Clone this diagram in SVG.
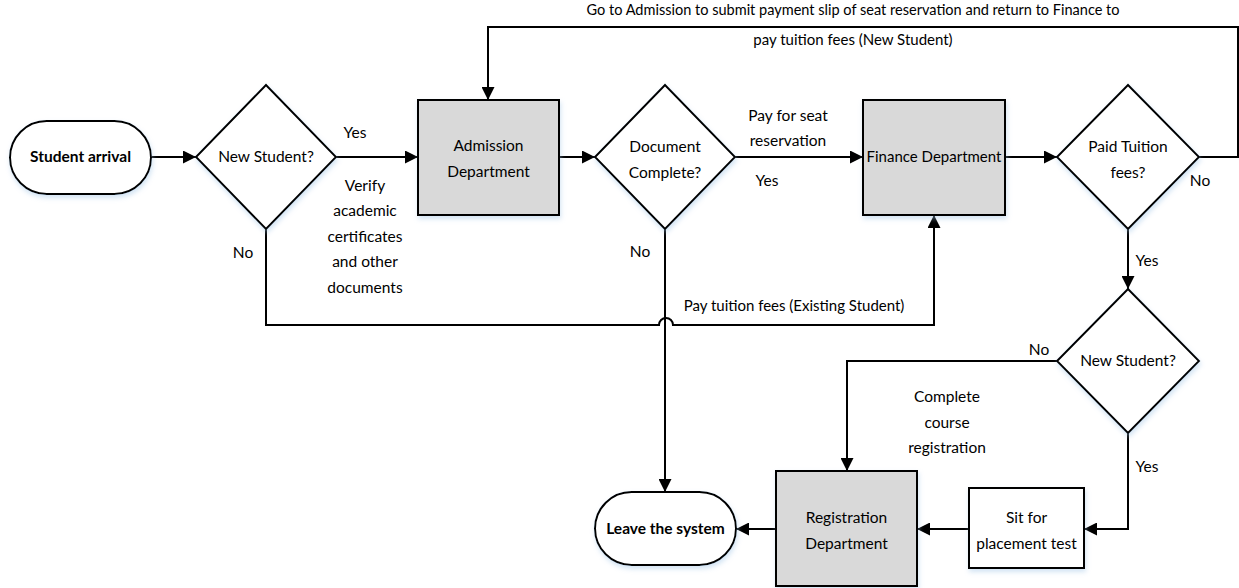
<svg xmlns="http://www.w3.org/2000/svg" width="1239" height="588" viewBox="0 0 1239 588">
  <style>
    text { font-family: Lato, "Open Sans", "Liberation Sans", sans-serif; font-size: 15.5px; fill: #000; text-anchor: middle; }
    .bold { font-weight: bold; }
    .small { font-size: 15px; }
    .shape { stroke: #000; stroke-width: 2; }
    .proc { fill: #d9d9d9; }
    .plain { fill: #fff; }
    .conn { fill: none; stroke: #000; stroke-width: 2; }
  </style>
  <defs>
    <marker id="arrow" viewBox="0 0 13 13" refX="13" refY="6.5" markerWidth="13" markerHeight="13" markerUnits="userSpaceOnUse" orient="auto">
      <path d="M0,0 L13,6.5 L0,13 z" fill="#000"/>
    </marker>
    <filter id="glow" x="-10%" y="-10%" width="125%" height="130%">
      <feDropShadow dx="1" dy="3" stdDeviation="2.5" flood-color="#9dc3e6" flood-opacity="0.45"/>
    </filter>
  </defs>
  <rect width="1239" height="588" fill="#fff"/>

  <!-- connectors -->
  <g id="connectors">
    <path class="conn" d="M151,157 H196" marker-end="url(#arrow)"/>
    <path class="conn" d="M336,157 H418" marker-end="url(#arrow)"/>
    <path class="conn" d="M559,157 H595" marker-end="url(#arrow)"/>
    <path class="conn" d="M735,157 H863" marker-end="url(#arrow)"/>
    <path class="conn" d="M1005,157 H1057" marker-end="url(#arrow)"/>
    <path class="conn" d="M1199,157 H1238 V27 H488 V100" marker-end="url(#arrow)"/>
    <path class="conn" d="M266,229 V325 H659 A7,7 0 0 1 673,325 H934 V215" marker-end="url(#arrow)"/>
    <path class="conn" d="M665,229 V492" marker-end="url(#arrow)"/>
    <path class="conn" d="M1128,229 V289" marker-end="url(#arrow)"/>
    <path class="conn" d="M1057,361 H847 V471" marker-end="url(#arrow)"/>
    <path class="conn" d="M1128,433 V529 H1084" marker-end="url(#arrow)"/>
    <path class="conn" d="M969,529 H917" marker-end="url(#arrow)"/>
    <path class="conn" d="M776,529 H736" marker-end="url(#arrow)"/>

    <text x="355" y="138">Yes</text>
    <text x="365" y="191">Verify</text>
    <text x="365" y="216">academic</text>
    <text x="365" y="242">certificates</text>
    <text x="365" y="267">and other</text>
    <text x="365" y="293">documents</text>
    <text x="243" y="258">No</text>
    <text x="788" y="121">Pay for seat</text>
    <text x="788" y="146">reservation</text>
    <text x="767" y="186">Yes</text>
    <text class="small" x="853" y="15" textLength="533" lengthAdjust="spacingAndGlyphs">Go to Admission to submit payment slip of seat reservation and return to Finance to</text>
    <text class="small" x="853" y="45">pay tuition fees (New Student)</text>
    <text x="1200" y="186">No</text>
    <text x="1147" y="266">Yes</text>
    <text class="small" x="794" y="311">Pay tuition fees (Existing Student)</text>
    <text x="640" y="257">No</text>
    <text x="1039" y="355">No</text>
    <text x="947" y="402">Complete</text>
    <text x="947" y="428">course</text>
    <text x="947" y="453">registration</text>
    <text x="1147" y="472">Yes</text>
  </g>

  <g id="student-arrival">
    <rect class="shape plain" filter="url(#glow)" x="10" y="121" width="141" height="73" rx="36.5"/>
    <text class="bold" x="80.5" y="162">Student arrival</text>
  </g>

  <g id="new-student-1">
    <polygon class="shape plain" filter="url(#glow)" points="196,157 266,85 336,157 266,229"/>
    <text x="266" y="162">New Student?</text>
  </g>

  <g id="admission">
    <rect class="shape proc" filter="url(#glow)" x="418" y="100" width="141" height="115"/>
    <text x="488.5" y="151">Admission</text>
    <text x="488.5" y="177">Department</text>
  </g>

  <g id="document-complete">
    <polygon class="shape plain" filter="url(#glow)" points="595,157 665,85 735,157 665,229"/>
    <text x="665" y="152">Document</text>
    <text x="665" y="178">Complete?</text>
  </g>

  <g id="finance">
    <rect class="shape proc" filter="url(#glow)" x="863" y="100" width="142" height="115"/>
    <text class="small" x="934" y="162">Finance Department</text>
  </g>

  <g id="paid-tuition">
    <polygon class="shape plain" filter="url(#glow)" points="1057,157 1128,85 1199,157 1128,229"/>
    <text x="1128" y="152">Paid Tuition</text>
    <text x="1128" y="178">fees?</text>
  </g>

  <g id="new-student-2">
    <polygon class="shape plain" filter="url(#glow)" points="1057,361 1128,289 1199,361 1128,433"/>
    <text x="1128" y="366">New Student?</text>
  </g>

  <g id="placement-test">
    <rect class="shape plain" filter="url(#glow)" x="969" y="488" width="115" height="80"/>
    <text x="1026.5" y="523">Sit for</text>
    <text x="1026.5" y="549">placement test</text>
  </g>

  <g id="registration">
    <rect class="shape proc" filter="url(#glow)" x="776" y="471" width="141" height="115"/>
    <text x="846.5" y="523">Registration</text>
    <text x="846.5" y="549">Department</text>
  </g>

  <g id="leave-system">
    <rect class="shape plain" filter="url(#glow)" x="595" y="492" width="141" height="73" rx="36.5"/>
    <text class="bold" x="665.5" y="534">Leave the system</text>
  </g>
</svg>
